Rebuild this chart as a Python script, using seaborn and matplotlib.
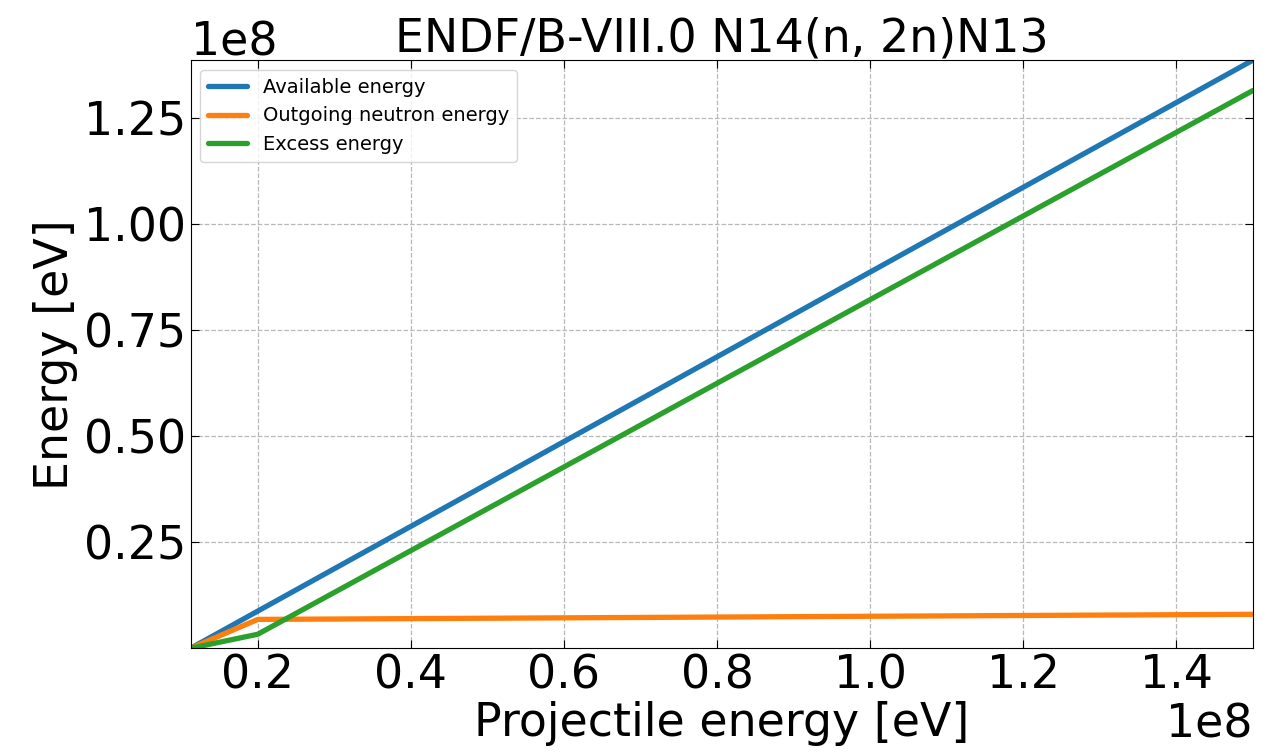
import numpy as np
import pandas as pd
import matplotlib
matplotlib.use("Agg")
import matplotlib.pyplot as plt
import seaborn as sns

# Data
projectile_energy = [1.124e7, 2.0e7, 1.5e8]
available_energy = [0.0, 0.0876e8, 1.3876e8]
outgoing_neutron_energy = [0.0, 0.068e8, 0.080e8]
excess_energy = [0.0, 0.033e8, 1.316e8]
series_names = ["Available energy", "Outgoing neutron energy", "Excess energy"]
y_ticks = [0.25e8, 0.50e8, 0.75e8, 1.00e8, 1.25e8]
colors = ["#1f77b4", "#ff7f0e", "#2ca02c"]
title = "ENDF/B-VIII.0 N14(n, 2n)N13"

sns.set_style("ticks")
plt.rcParams['font.family'] = ['DejaVu Sans']
plt.rcParams['text.color'] = 'black'
plt.rcParams['axes.labelcolor'] = 'black'
plt.rcParams['xtick.color'] = 'black'
plt.rcParams['ytick.color'] = 'black'
plt.rcParams['axes.edgecolor'] = 'black'

frames = []
for name, vals in zip(series_names, [available_energy, outgoing_neutron_energy, excess_energy]):
    frames.append(pd.DataFrame({"x": projectile_energy, "y": vals, "series": name}))
df = pd.concat(frames, ignore_index=True)

fig = plt.figure(figsize=(12.63, 7.52), dpi=100)
ax = fig.add_axes([0.151, 0.138, 0.841, 0.782])

sns.lineplot(data=df, x="x", y="y", hue="series", palette=colors, linewidth=3.8,
             ax=ax, sort=False, estimator=None)

ax.set_xlim(min(projectile_energy), max(projectile_energy))
ax.set_ylim(0, max(available_energy))
ax.set_yticks(y_ticks)
ax.grid(True, linestyle="--", color="#b8b8b8", linewidth=0.9)
ax.tick_params(direction="in", top=True, right=True, labelsize=33, length=6)
ax.xaxis.get_offset_text().set_fontsize(33)
ax.yaxis.get_offset_text().set_fontsize(33)
ax.set_xlabel("Projectile energy [eV]", fontsize=33, labelpad=2)
ax.set_ylabel("Energy [eV]", fontsize=33)
ax.set_title(title, fontsize=33)
leg = ax.legend(loc="upper left", fontsize=14, title=None, frameon=True)
for line in leg.get_lines():
    line.set_linewidth(3.8)
for t in leg.get_texts():
    t.set_color("black")

fig.savefig("out.png", dpi=100)
